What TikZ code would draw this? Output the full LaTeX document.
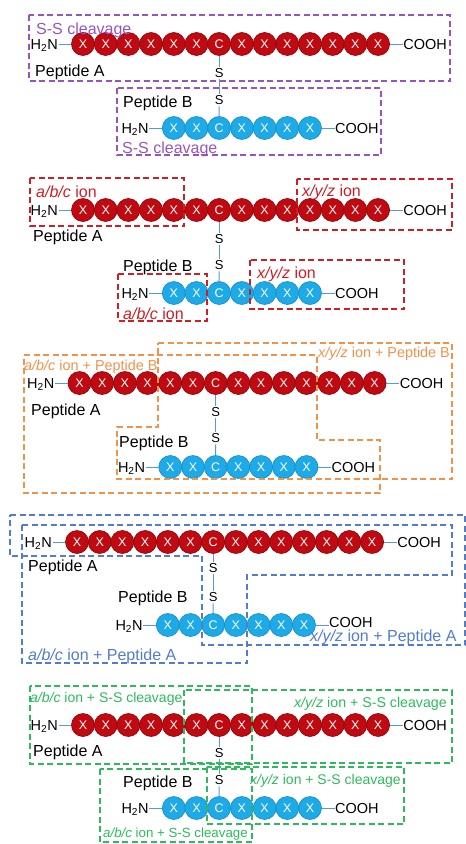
\documentclass[tikz,border=0pt]{standalone}
\usepackage{fontspec}
\setmainfont{Liberation Sans}
\definecolor{redfill}{RGB}{192,10,18}
\definecolor{redline}{RGB}{140,0,8}
\definecolor{bluefill}{RGB}{30,170,230}
\definecolor{blueline}{RGB}{20,140,200}
\definecolor{bondc}{RGB}{85,155,220}
\definecolor{purp}{RGB}{150,85,190}
\definecolor{redd}{RGB}{206,30,38}
\definecolor{orng}{RGB}{240,146,72}
\definecolor{blud}{RGB}{84,124,204}
\definecolor{grn}{RGB}{46,186,92}
\tikzset{
 rc/.style={circle, fill=redfill, draw=redline, line width=0.6pt, minimum size=23pt, inner sep=0pt, text=white, font=\fontsize{12.5}{14}\selectfont},
 bc/.style={circle, fill=bluefill, draw=blueline, line width=0.6pt, minimum size=23pt, inner sep=0pt, text=white, font=\fontsize{12.5}{14}\selectfont},
 term/.style={inner sep=0.5pt, font=\fontsize{14.5}{17}\selectfont},
 sl/.style={inner sep=1.5pt, font=\fontsize{13}{15}\selectfont},
 bond/.style={draw=bondc, line width=1pt},
 pep/.style={inner sep=0pt, anchor=base west, font=\fontsize{16}{19}\selectfont},
 sml/.style={inner sep=0pt, anchor=base west, font=\fontsize{14.4}{17}\selectfont},
 dbox/.style={dash pattern=on 6pt off 3.5pt, line width=1.3pt},
}
% #1 prefix, #2 x0, #3 y, #4 last index, #5 C index, #6 style, #7 COOH y shift
\newcommand\chainrow[7]{%
  \foreach \i in {0,...,#4}{\node[#6] (#1\i) at ({#2+\i*22.7},#3) {\ifnum\i=#5 C\else X\fi};}
  \node[term,anchor=base east] (#1h) at ({#2-24.5},{#3+5.2}) {H\textsubscript{2}N};
  \node[term,anchor=base west] (#1t) at ({#2+#4*22.7+24.5},{#3+5.2+#7}) {COOH};
  \draw[bond] (#1h.east |- #10.west) -- (#10.west);
  \draw[bond] (#1#4.east) -- (#1t.west |- #1#4.east);
}
\newcommand\pairpanel[7]{%
  \chainrow{#1a}{#2}{#3}{13}{6}{rc}{0}
  \chainrow{#1b}{#2+90.8}{#4}{6}{2}{bc}{#7}
  \node[sl] (#1s1) at (#1a6 |- 0,#5) {S};
  \node[sl] (#1s2) at (#1a6 |- 0,#6) {S};
  \draw[bond] (#1a6) -- (#1s1);
  \draw[bond] (#1s1) -- (#1s2);
  \draw[bond] (#1s2) -- (#1b2);
}
\begin{document}
\begin{tikzpicture}[x=1pt,y=-1pt]
\useasboundingbox (0,0) rectangle (466,844);
% ---------- Panel 1 ----------
\pairpanel{p1}{83}{44}{128}{73}{100}{0}
\node[pep,text=purp] (l11) at (36,34) {S-S cleavage};
\node[pep] (l12) at (35,76) {Peptide A};
\node[pep] (l13) at (123,107) {Peptide B};
\node[pep,text=purp] (l14) at (122,153) {S-S cleavage};
\draw[dbox,purp] (29,15) rectangle (450,81);
\draw[dbox,purp] (117,88) rectangle (381,155);
% ---------- Panel 2 ----------
\pairpanel{p2}{83}{210}{293}{239}{265}{0}
\node[pep,text=redd] (l21) at (36,197) {\textit{a/b/c} ion};
\node[pep,text=redd] (l22) at (302,196) {\textit{x/y/z} ion};
\node[pep] (l23) at (33,241) {Peptide A};
\node[pep] (l24) at (123,271) {Peptide B};
\node[pep,text=redd] (l25) at (257,278) {\textit{x/y/z} ion};
\node[pep,text=redd] (l26) at (123,319) {\textit{a/b/c} ion};
\draw[dbox,redd] (30,178) rectangle (184,226);
\draw[dbox,redd] (297,179) rectangle (452,230);
\draw[dbox,redd] (118,274) rectangle (207,321);
\draw[dbox,redd] (250,260) rectangle (404,309);
% ---------- Panel 3 ----------
\pairpanel{p3}{79.5}{383}{467}{412}{438}{0}
\node[sml,text=orng] (l31) at (24,370) {\textit{a/b/c} ion + Peptide B};
\node[sml,text=orng] (l32) at (318,357) {\textit{x/y/z} ion + Peptide B};
\node[pep] (l33) at (31,415) {Peptide A};
\node[pep] (l34) at (119,447) {Peptide B};
\draw[dbox,orng] (24,355) -- (317,355) -- (317,440) -- (380,440) -- (380,493) -- (24,493) -- cycle;
\draw[dbox,orng] (158,343) -- (452,343) -- (452,479) -- (117,479) -- (117,427) -- (158,427) -- cycle;
% ---------- Panel 4 ----------
\pairpanel{p4}{77}{542}{625}{568}{597}{-3}
\node[pep] (l41) at (28,571) {Peptide A};
\node[pep] (l42) at (118,602) {Peptide B};
\node[pep,text=blud] (l43) at (28,660) {\textit{a/b/c} ion + Peptide A};
\node[pep,text=blud] (l44) at (310,641.5) {\textit{x/y/z} ion + Peptide A};
\draw[dbox,blud] (22,525) -- (452,525) -- (452,575) -- (247,575) -- (247,663) -- (22,663) -- cycle;
\draw[dbox,blud] (10,515) -- (465,515) -- (465,645) -- (202,645) -- (202,556) -- (10,556) -- cycle;
% ---------- Panel 5 ----------
\pairpanel{p5}{83}{725}{808}{753}{780}{0}
\node[sml,text=grn,font=\fontsize{14}{17}\selectfont] (l51) at (30,702) {\textit{a/b/c} ion + S-S cleavage};
\node[sml,text=grn,anchor=base east,font=\fontsize{14.2}{17}\selectfont] (l52) at (447,707) {\textit{x/y/z} ion + S-S cleavage};
\node[pep] (l53) at (33,756) {Peptide A};
\node[pep] (l54) at (123,787) {Peptide B};
\node[sml,text=grn,font=\fontsize{14}{17}\selectfont] (l55) at (250,784) {\textit{x/y/z} ion + S-S cleavage};
\node[sml,text=grn,font=\fontsize{13.3}{16}\selectfont] (l56) at (103,837) {\textit{a/b/c} ion + S-S cleavage};
\draw[dbox,grn] (30,686) rectangle (252,764);
\draw[dbox,grn] (184,690) rectangle (452,763);
\draw[dbox,grn] (100,769) rectangle (252,842);
\draw[dbox,grn] (207,767) rectangle (404,824);
\end{tikzpicture}
\end{document}
